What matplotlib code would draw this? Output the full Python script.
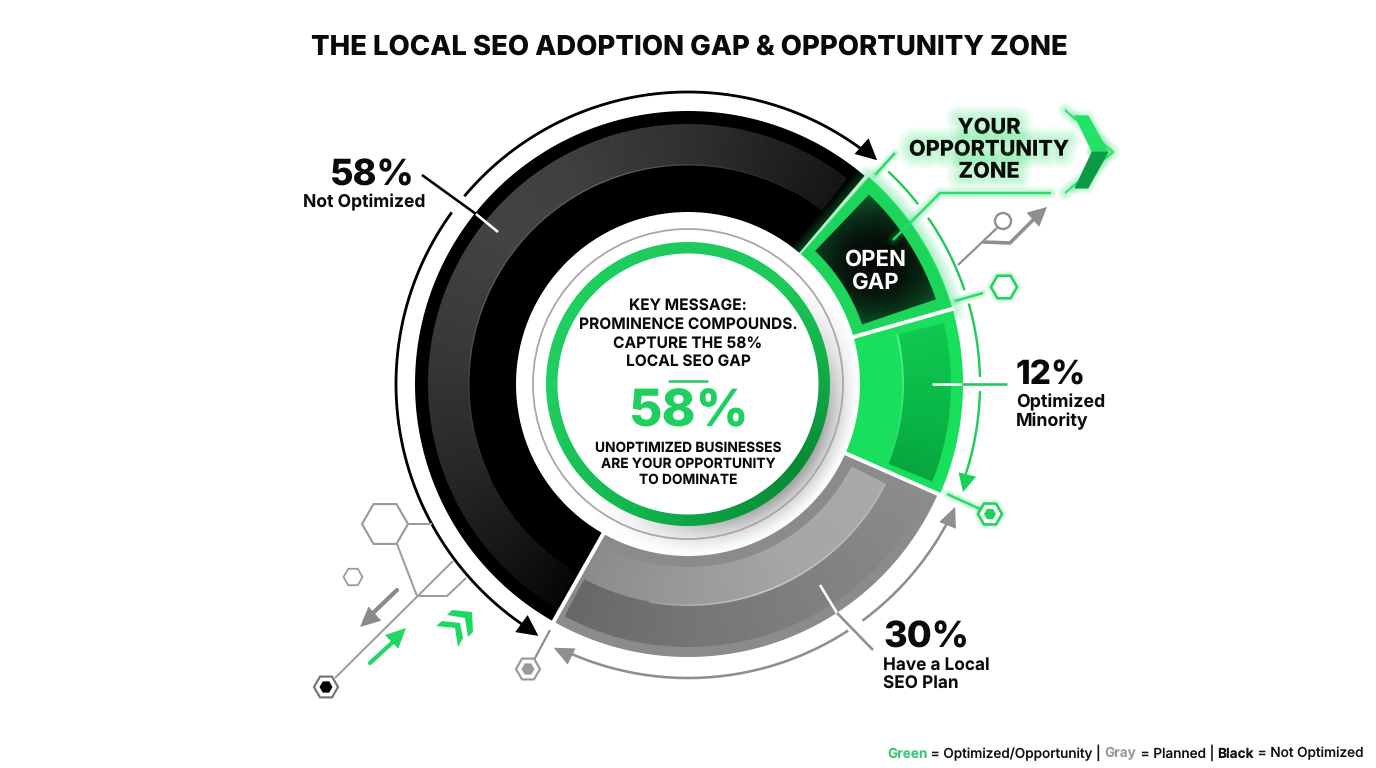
import numpy as np
import matplotlib
matplotlib.use("Agg")
import matplotlib.pyplot as plt
import matplotlib.patheffects as pe
from matplotlib.colors import to_rgb
from matplotlib.patches import Circle, Polygon

plt.rcParams["font.family"] = ["Inter", "DejaVu Sans"]
plt.rcParams["text.hinting"] = "no_hinting"

# ring segments, going counter clockwise from the top right edge of the black part
segment_names = ["Not Optimized", "Have a Local SEO Plan", "Optimized Minority", "Open Gap"]
segment_shares = [53.0, 26.6, 11.0, 9.4]  # drawn sweep, percent of the circle
start_angle = 49.7
label_values = ["58%", "12%", "30%"]
label_names = ["Not Optimized", "Optimized\nMinority", "Have a Local\nSEO Plan"]
title = "THE LOCAL SEO ADOPTION GAP & OPPORTUNITY ZONE"
key_lines = ["KEY MESSAGE:", "PROMINENCE COMPOUNDS.", "CAPTURE THE 58%", "LOCAL SEO GAP"]
center_value = "58%"
sub_lines = ["UNOPTIMIZED BUSINESSES", "ARE YOUR OPPORTUNITY", "TO DOMINATE"]
legend_parts = [("Green", "#3fc777", "bold"), (" = Optimized/Opportunity | ", "#111111", "medium"),
                ("Gray", "#9a9a9a", "bold"), (" = Planned | ", "#111111", "medium"),
                ("Black", "#111111", "bold"), (" = Not Optimized", "#111111", "medium")]

GLOW = "#22e066"
GRAY = "#8f8f8f"
cx, cy = 688, 384

fig = plt.figure(figsize=(13.76, 7.68), dpi=100)
ax = fig.add_axes([0, 0, 1, 1])
ax.axis("off")

# angle of every pixel round the center, for the gradients
grid_y, grid_x = np.mgrid[cy - 290:cy + 290:0.5, cx - 290:cx + 290:0.5]
grid_angle = np.degrees(np.arctan2(cy - grid_y, grid_x - cx))
grid_extent = [cx - 290, cx + 290, cy + 290, cy - 290]


def pol(r, a):
    a = np.radians(a)
    return cx + r * np.cos(a), cy - r * np.sin(a)


def sector_pts(r0, r1, a0, a1):
    t = np.linspace(a0, a1, max(4, int(abs(a1 - a0) * 1.5)))
    x1, y1 = pol(r1, t)
    x0, y0 = pol(r0, t[::-1])
    return np.column_stack([np.r_[x1, x0], np.r_[y1, y0]])


def sector(r0, r1, a0, a1, color, z=2):
    ax.add_patch(Polygon(sector_pts(r0, r1, a0, a1), closed=True, fc=color, ec="none", zorder=z))


def grad_sector(r0, r1, a0, a1, stops, z=2):
    # angular gradient as an image, clipped to the sector
    angles = [s[0] for s in stops]
    rgb = np.array([to_rgb(s[1]) for s in stops])
    base = angles[0] + (grid_angle - angles[0]) % 360
    img = np.dstack([np.interp(base, angles, rgb[:, i]) for i in range(3)])
    im = ax.imshow(img, extent=grid_extent, aspect="auto", zorder=z, interpolation="bilinear")
    im.set_clip_path(Polygon(sector_pts(r0, r1, a0, a1), closed=True, transform=ax.transData))


def glow_line(x, y, color=GLOW, width=2.5, spread=12, z=3, strength=0.035):
    for w in np.linspace(width + spread, width + 1, 8):
        ax.plot(x, y, color=color, lw=w * 0.72, alpha=strength, solid_capstyle="round",
                solid_joinstyle="round", zorder=z)
    ax.plot(x, y, color=color, lw=width * 0.72, solid_capstyle="butt", solid_joinstyle="miter", zorder=z + 0.1)


def line(x, y, color=GRAY, width=2.0, z=4, cap="butt"):
    ax.plot(x, y, color=color, lw=width * 0.72, solid_capstyle=cap, solid_joinstyle="miter", zorder=z)


def arc(r, a0, a1, color, width=2.5, z=4):
    t = np.linspace(a0, a1, 120)
    x, y = pol(r, t)
    line(x, y, color, width, z)


def arrow_head(tip, direction, length, width, color, z=5):
    # direction in degrees, in picture coordinates with y pointing up
    d = np.radians(direction)
    ux, uy = np.cos(d), -np.sin(d)
    bx, by = tip[0] - length * ux, tip[1] - length * uy
    pts = [tip, (bx - uy * width / 2, by + ux * width / 2), (bx + uy * width / 2, by - ux * width / 2)]
    ax.add_patch(Polygon(pts, closed=True, fc=color, ec="none", zorder=z))


def hexagon(x, y, r, fc="white", ec=GRAY, lw=2.0, z=5):
    t = np.radians(np.arange(0, 360, 60))
    pts = np.column_stack([x + r * np.cos(t), y + r * np.sin(t)])
    ax.add_patch(Polygon(pts, closed=True, fc=fc, ec=ec, lw=lw * 0.72, zorder=z, joinstyle="miter"))
    return pts


def green_hexagon(x, y, r):
    pts = hexagon(x, y, r, fc="white", ec="#21d35f", lw=2.6)
    glow_line(np.r_[pts[:, 0], pts[0, 0]], np.r_[pts[:, 1], pts[0, 1]], width=1, spread=9, z=4.5, strength=0.03)


# segment edges from the shares
edges = start_angle + np.r_[0, np.cumsum(segment_shares)] * 3.6
a_black = (edges[0], edges[1])
a_gray = (edges[1] - 360, edges[2] - 360)
a_green = (edges[2] - 360, edges[3] - 360)
a_gap = (edges[3] - 360, edges[4] - 360)

R0, R1 = 171, 273

# ---- black part
sector(R0, R1, a_black[0], a_black[1], "#000000")
grad_sector(219, 260, a_black[0] + 2.5, a_black[1] - 1,
            [(40, "#141414"), (50, "#141414"), (70, "#222222"), (90, "#303030"), (120, "#404040"), (140, "#444444"),
             (170, "#393939"), (200, "#282828"), (225, "#141414"), (240, "#060606"), (400, "#141414")], z=2.1)
grad_sector(218.5, 219.7, 62, 205,
            [(40, "#222222"), (62, "#222222"), (110, "#666666"), (160, "#5c5c5c"), (205, "#2a2a2a"), (400, "#222222")], z=2.2)

# ---- gray part
sector(R0, R1, a_gray[0], a_gray[1], "#8b8b8b")
grad_sector(183, 221, a_gray[0] + 1.5, a_gray[1] - 3,
            [(-130, "#8c8c8c"), (-118, "#8c8c8c"), (-90, "#9a9a9a"), (-60, "#a6a6a6"), (-20, "#ababab"), (230, "#8c8c8c")], z=2.1)
grad_sector(221, 263, a_gray[0] + 1.5, a_gray[1] - 3,
            [(-130, "#686868"), (-118, "#686868"), (-90, "#757575"), (-60, "#808080"), (-20, "#8d8d8d"), (230, "#686868")], z=2.1)
grad_sector(220.3, 222, -100, a_gray[1] - 3,
            [(-130, "#a0a0a0"), (-100, "#a0a0a0"), (-70, "#c8c8c8"), (-27, "#b4b4b4"), (230, "#a0a0a0")], z=2.2)

# ---- green part
sector(R0, R1 + 2, a_green[0], a_green[1], "#19e05c")
grad_sector(215, 263, a_green[0] + 2, a_green[1] - 2.5,
            [(-30, "#07a63e"), (-22, "#07a63e"), (-10, "#09b445"), (5, "#0dc24c"), (17, "#10cc52"), (330, "#07a63e")], z=2.1)
grad_sector(214, 216, a_green[0] + 2, a_green[1] - 2.5,
            [(-30, "#22d964"), (-22, "#22d964"), (17, "#5eee94"), (330, "#22d964")], z=2.2)

# ---- open gap, with its glow
gap_pts = sector_pts(R0 + 1, R1 + 1, a_gap[0], a_gap[1] - 1)
gx, gy = np.r_[gap_pts[:, 0], gap_pts[0, 0]], np.r_[gap_pts[:, 1], gap_pts[0, 1]]
glow_line(gx, gy, width=2, spread=24, z=2.5, strength=0.05)
ax.add_patch(Polygon(gap_pts, closed=True, fc="#1cd65c", ec="none", zorder=2.7))
dark_pts = sector_pts(184, 262, a_gap[0] + 3, a_gap[1] - 3.4)
yy, xx = np.mgrid[175:345, 790:965]
dist = np.clip(np.hypot((xx - 876) / 80.0, (yy - 262) / 72.0), 0, 1)
low, high = np.array(to_rgb("#060806")), np.array(to_rgb("#0d6a33"))
shade = low + (high - low) * (dist[..., None] ** 2.2)
dark = ax.imshow(shade, extent=[790, 965, 345, 175], aspect="auto", zorder=2.8, interpolation="bilinear")
dark.set_clip_path(Polygon(dark_pts, closed=True, transform=ax.transData))

# white cuts between the parts
for a, r_end in [(a_gap[0], R1 + 4), (a_green[0], R1 + 4), (a_black[1], R1 + 3)]:
    x, y = pol(np.array([R0 - 2, r_end]), a)
    line(x, y, "white", 4, z=3)

# ---- center disc
ax.add_patch(Circle((cx, cy), R0 + 1, fc="white", ec="none", zorder=3))
yy, xx = np.mgrid[cy - 175:cy + 175, cx - 175:cx + 175]
rr = np.hypot(xx - cx, yy - cy)
th = np.arctan2(cy - yy, xx - cx)
side = np.clip(np.cos(th + np.radians(42)), 0, 1) ** 1.5
amount = 0.36 * side * np.clip(1 - (rr - 142) / 30.0, 0, 1) ** 1.3
amount[rr < 140] = 0
rgba = np.zeros(rr.shape + (4,))
rgba[..., 3] = amount
disc = ax.imshow(rgba, extent=[cx - 175, cx + 175, cy + 175, cy - 175], aspect="auto", zorder=3.1)
disc.set_clip_path(Circle((cx, cy), R0 + 1, transform=ax.transData))
ax.add_patch(Circle((cx, cy), 155, fc="none", ec="#a8a8a8", lw=1.3, zorder=3.2))
grad_sector(130.5, 142, -180, 180,
            [(-180, "#1fd060"), (-120, "#14b94f"), (-70, "#0b9a3e"), (-35, "#0a8a36"), (0, "#0fa845"),
             (45, "#1cc95a"), (180, "#1fd060")], z=3.3)

# ---- arcs around the ring
arc(292, 140, 51.5, "#000000", 2.8)
arc(292, 144, 238, "#000000", 2.8)
arrow_head(pol(293, 49.8), -42, 21, 21, "#000000")
arrow_head(pol(293, 239.3), -36, 21, 21, "#000000")

arc(294, -26.5, -53.6, GRAY, 2.6)
arc(294, -57, -115, GRAY, 2.6)
arrow_head(pol(294, -24.7), 68, 20, 18, GRAY)
arrow_head(pol(296, -117), 154, 20, 18, GRAY)

for a0, a1 in [(46.7, 38), (34.7, 18.7), (16, 1.4), (-1.4, -18)]:
    arc(292, a0, a1, "#1fc95c", 2.4)
arrow_head((963, 492), -104, 18, 18, "#17d257")

# ---- small green marks on the right
glow_line([875, 895], [175, 153], width=2.4, spread=7)
glow_line([955, 983], [301, 293], width=2.4, spread=7)
green_hexagon(1004, 287, 13)
glow_line([947, 980], [494, 509], width=2.4, spread=7)
green_hexagon(990, 514, 12)
hexagon(990, 514, 6, fc="#1dd25b", ec="none", lw=0)

# opportunity leader and chevron
glow_line([893, 940, 1051], [240, 193, 193], width=2.4, spread=10, z=3.5)
glow_line([1065, 1113, 1065], [110, 152, 193], width=1.8, spread=14, z=3.5, strength=0.04)
for pts, col in [([(1075, 116), (1088, 116), (1108, 152), (1092, 152)], "#24e268"),
                 ([(1092, 152), (1108, 152), (1088, 188), (1075, 188)], "#0c9a45")]:
    glow_line([p[0] for p in pts], [p[1] for p in pts], width=1, spread=12, z=3.5, strength=0.03)
    ax.add_patch(Polygon(pts, closed=True, fc=col, ec=col, lw=0.5, zorder=4))

# gray circuit bits, top right
line([958, 997], [265, 228], GRAY, 2.2)
ax.add_patch(Circle((1003, 221), 8, fc="white", ec=GRAY, lw=1.7, zorder=5))
line([983, 1010, 1037], [242, 243, 216], GRAY, 3.6)
arrow_head((1047, 207), 42, 19, 19, GRAY)

# gray circuit bits, bottom left
hex_gray = "#9c9c9c"
hexagon(385, 524, 23, fc="none", ec=hex_gray, lw=2.2)
hexagon(353, 577, 9.5, fc="none", ec=hex_gray, lw=1.8)
line([408, 432], [524, 524], hex_gray, 2)
line([397, 417], [544, 596], hex_gray, 2)
line([335, 453], [678, 561], hex_gray, 2)
line([417, 447, 466], [596, 596, 578], hex_gray, 2)
line([397, 372], [590, 614], "#8a8a8a", 4.2, cap="round")
arrow_head((360, 627), 222, 20, 19, "#8a8a8a")
line([370, 394], [663, 641], "#1fd863", 4.2, cap="round")
arrow_head((406, 628), 44, 20, 19, "#1fd863")
chev_a = [(447, 615), (452, 610), (472, 612), (473, 632), (468, 637), (465, 618)]
chev_b = [(436, 626), (442, 621), (460, 623), (463, 638), (458, 647), (455, 628)]
for pts in (chev_a, chev_b):
    ax.add_patch(Polygon(pts, closed=True, fc="#1fd863", ec="none", zorder=5))
hexagon(326, 687, 12, fc="white", ec="#777777", lw=2.2)
hexagon(326, 687, 6.5, fc="#000000", ec="none", lw=0)
line([534, 550], [660, 630], GRAY, 2.2)
hexagon(528, 669, 12, fc="white", ec="#9a9a9a", lw=2.2)
hexagon(528, 669, 6.5, fc="#9a9a9a", ec="none", lw=0)

# ---- leader lines to the labels
line([422, 476], [175, 214], "#000000", 2.6, z=4.6)
line([476, 498], [214, 232], "white", 2.6, z=4.6)
line([932, 962], [384, 384], "white", 2.6, z=4.6)
line([962, 1007], [384, 384], "#1fc95c", 2.6, z=4.6)
line([820, 837], [585, 613], "white", 2.6, z=4.6)
line([837, 873], [613, 650], GRAY, 2.6, z=4.6)


# ---- text
def txt(x, y, s, size, weight="bold", color="#0a0a0a", ha="center", z=6, **kw):
    return ax.text(x, y + 2, s, fontsize=size, fontweight=weight, color=color, ha=ha, va="center", zorder=z, **kw)


txt(689, 45, title, 19.8, 800)

txt(372, 174, label_values[0], 26, 800)
txt(364, 200, label_names[0], 12.6, 700)
txt(1016, 374, label_values[1], 24, 800, ha="left")
for yy_, s in zip([400, 419], label_names[1].split("\n")):
    txt(1016, yy_, s, 12.8, 700, ha="left")
txt(883, 636, label_values[2], 26, 800, ha="left")
for yy_, s in zip([663, 682], label_names[2].split("\n")):
    txt(883, yy_, s, 12.4, 700, ha="left")

halo = [pe.Stroke(linewidth=w, foreground=GLOW, alpha=0.07) for w in (18, 13, 9, 5)]
for yy_, s in zip([126, 148, 170], ["YOUR", "OPPORTUNITY", "ZONE"]):
    txt(989, yy_, s, 15.6, 800, path_effects=halo + [pe.Normal()], z=3.6)

txt(876, 258, "OPEN", 16, 700, color="white")
txt(876, 281, "GAP", 16, 700, color="white")

for yy_, s in zip([304, 323, 342, 360], key_lines):
    txt(688, yy_, s, 11.2, 700)
line([668, 708], [380.5, 380.5], "#2ccb67", 2.6)
txt(688, 411, center_value, 37, 800, color="#1fcf5f")
for yy_, s in zip([446, 462, 478], sub_lines):
    txt(688, yy_, s, 9.9, 700)

# legend line, one piece after the other
ax.set_xlim(0, 1376)
ax.set_ylim(768, 0)
renderer = fig.canvas.get_renderer()
lx = 887.0
for s, col, w in legend_parts:
    ax.text(lx, 757.5, s, fontsize=9.8, fontweight=w, color=col, ha="left", va="baseline", zorder=6)
    # blanks at the ends are not measured, so measure with no-break spaces
    probe = ax.text(0, 0, s.replace(" ", "\u00a0"), fontsize=9.8, fontweight=w)
    lx += probe.get_window_extent(renderer).width
    probe.remove()

fig.savefig("out.png", dpi=100, facecolor="white")
